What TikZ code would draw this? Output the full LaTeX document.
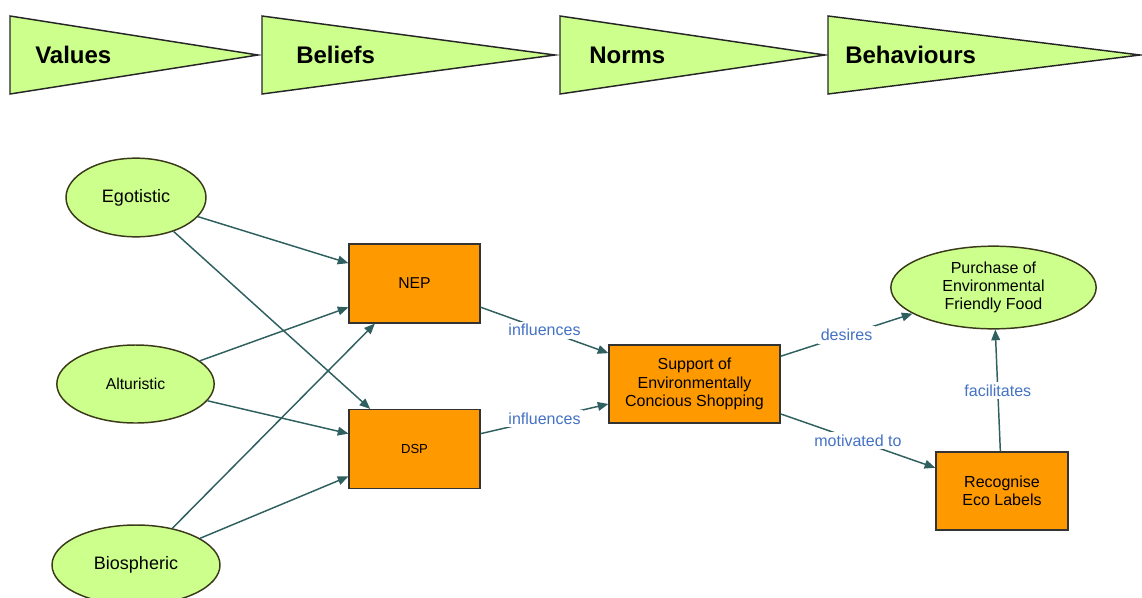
\documentclass[tikz,border=0pt]{standalone}
\usepackage{fontspec}
\setmainfont{Liberation Sans}
\usetikzlibrary{arrows.meta,shapes.geometric}
\definecolor{lime}{HTML}{CCFF8C}
\definecolor{orng}{HTML}{FF9900}
\definecolor{edge}{HTML}{2F5F5F}
\definecolor{lblue}{HTML}{4472C4}
\definecolor{bord}{HTML}{3A3A1A}
\tikzset{
  pennant/.style={draw=black!85, line width=1.1pt, fill=lime},
  headtxt/.style={anchor=west, inner sep=0pt, font=\fontsize{18}{20}\selectfont\bfseries},
  oval/.style={ellipse, draw=bord, line width=1.1pt, fill=lime, inner sep=0pt, align=center},
  box/.style={rectangle, draw=black!80, line width=1.1pt, fill=orng, inner sep=0pt, align=center, font=\fontsize{12}{13.7}\selectfont},
  conn/.style={draw=edge, line width=1.1pt, -{Triangle[length=8pt,width=6.5pt]}},
  lbl/.style={fill=white, inner sep=2pt, text=lblue, font=\fontsize{12}{13.7}\selectfont},
}
\begin{document}
\begin{tikzpicture}[x=0.75pt, y=-0.75pt]
\useasboundingbox (0,0) rectangle (1142,597);
% header pennants
\draw[pennant] (10,16) -- (258,55) -- (10,94) -- cycle;
\draw[pennant] (262,16) -- (555,55) -- (262,94) -- cycle;
\draw[pennant] (560,16) -- (825,55) -- (560,94) -- cycle;
\draw[pennant] (828,16) -- (1140,55) -- (828,94) -- cycle;
\node[headtxt] (hv) at (35,55) {Values};
\node[headtxt] (hb) at (296,55) {Beliefs};
\node[headtxt] (hn) at (589,55) {Norms};
\node[headtxt] (hbe) at (845,55) {Behaviours};
% nodes
\node[oval, minimum width=105pt, minimum height=59pt, font=\fontsize{13.5}{15}\selectfont] (ego) at (136,197.5) {Egotistic};
\node[oval, minimum width=118pt, minimum height=58.5pt, font=\fontsize{11.8}{13}\selectfont] (alt) at (135.5,384) {Alturistic};
\node[oval, minimum width=126pt, minimum height=60pt, font=\fontsize{13.5}{15}\selectfont] (bio) at (136,565) {Biospheric};
\node[box, minimum width=98pt, minimum height=59pt, font=\fontsize{11.8}{13}\selectfont] (nep) at (414.5,283.5) {NEP};
\node[box, minimum width=98pt, minimum height=59pt, font=\fontsize{9.8}{11}\selectfont] (dsp) at (414.5,449) {DSP};
\node[box, minimum width=128pt, minimum height=58.5pt] (sup) at (694.5,384) {Support of\\Environmentally\\Concious Shopping};
\node[oval, minimum width=154pt, minimum height=62pt, font=\fontsize{12}{13.7}\selectfont] (pur) at (993.5,287.5) {Purchase of\\Environmental\\Friendly Food};
\node[box, minimum width=99pt, minimum height=58.5pt] (rec) at (1002,491) {Recognise\\Eco Labels};
% connectors
\draw[conn] (ego) -- (nep);
\draw[conn] (ego) -- (dsp);
\draw[conn] (alt) -- (nep);
\draw[conn] (alt) -- (dsp);
\draw[conn] (bio) -- (nep);
\draw[conn] (bio) -- (dsp);
\draw[conn] (nep) -- node[lbl] (l1) {influences} (sup);
\draw[conn] (dsp) -- node[lbl] (l2) {influences} (sup);
\draw[conn] (sup) -- node[lbl] (l3) {desires} (pur);
\draw[conn] (sup) -- node[lbl] (l4) {motivated to} (rec);
\draw[conn] (rec) -- node[lbl] (l5) {facilitates} (pur);
\end{tikzpicture}
\end{document}
